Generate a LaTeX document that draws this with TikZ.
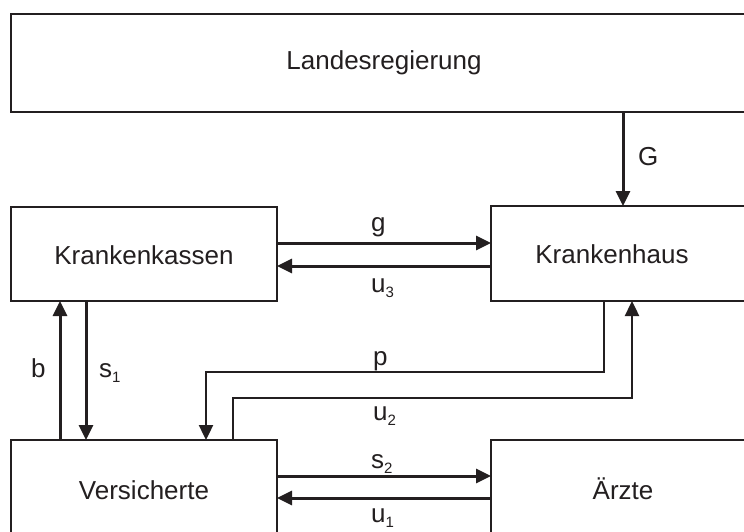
\documentclass[tikz,border=0pt]{standalone}
\usepackage{fontspec}
\setmainfont{Liberation Sans}
\usetikzlibrary{arrows.meta}
\definecolor{ink}{RGB}{35,31,32}
\newcommand{\subtxt}[1]{\raisebox{-5pt}{\fontsize{15}{15}\selectfont #1}}
\begin{document}
\begin{tikzpicture}[x=1pt,y=-1pt,
  box/.style={draw=ink,line width=2.6pt,rectangle,inner sep=0pt,outer sep=0pt},
  txt/.style={text=ink,font=\fontsize{26}{30}\selectfont,inner sep=0pt,anchor=base},
  lbl/.style={text=ink,font=\fontsize{26}{30}\selectfont,inner sep=0pt,anchor=base west},
  arr/.style={draw=ink,line width=3pt,-{Triangle[length=15pt 0 0,width=14pt 0 0]}},
  arrthin/.style={draw=ink,line width=2.4pt,-{Triangle[length=15pt 0 0,width=14pt 0 0]}}]
\clip (0,0) rectangle (744,532);
\fill[white] (0,0) rectangle (744,532);
% boxes
\node[box,minimum width=749pt,minimum height=98pt] (land) at (385.5,63) {};
\node[box,minimum width=266pt,minimum height=94pt] (kasse) at (144,254) {};
\node[box,minimum width=269pt,minimum height=95pt] (haus) at (625.5,253.5) {};
\node[box,minimum width=266pt,minimum height=120pt] (vers) at (144,500) {};
\node[box,minimum width=269pt,minimum height=120pt] (aerzte) at (625.5,500) {};
% texts
\node[txt] (tland) at (384,70) {Landesregierung};
\node[txt] (tkasse) at (144,264) {Krankenkassen};
\node[txt] (thaus) at (612,263) {Krankenhaus};
\node[txt] (tvers) at (144,499) {Versicherte};
\node[txt] (taerzte) at (623,499) {Ärzte};
% helper coordinates
\coordinate (xG) at (623,0);
\coordinate (yg) at (0,243);
\coordinate (yu3) at (0,266);
\coordinate (ys2) at (0,476);
\coordinate (yu1) at (0,498);
\coordinate (xb) at (60,0);
\coordinate (xs1) at (86,0);
\coordinate (pstart) at (604,0);
\coordinate (pend) at (206,0);
\coordinate (ypline) at (0,372);
\coordinate (ustart) at (233,0);
\coordinate (uend) at (632,0);
\coordinate (yuline) at (0,398);
% connectors
\draw[arr] (land.south -| xG) -- (haus.north -| xG);
\draw[arr] (kasse.east |- yg) -- (haus.west |- yg);
\draw[arr] (haus.west |- yu3) -- (kasse.east |- yu3);
\draw[arr] (vers.east |- ys2) -- (aerzte.west |- ys2);
\draw[arr] (aerzte.west |- yu1) -- (vers.east |- yu1);
\draw[arr] (vers.north -| xb) -- (kasse.south -| xb);
\draw[arr] (kasse.south -| xs1) -- (vers.north -| xs1);
\draw[arrthin] (haus.south -| pstart) -- (pstart |- ypline) -- (pend |- ypline) -- (vers.north -| pend);
\draw[arrthin] (vers.north -| ustart) -- (ustart |- yuline) -- (uend |- yuline) -- (haus.south -| uend);
% labels
\node[lbl] (lG) at (638,165) {G};
\node[lbl] (lg) at (371,231) {g};
\node[lbl] (lu3) at (371,292) {u\subtxt{3}};
\node[lbl] (lp) at (373,365) {p};
\node[lbl] (lu2) at (373,420) {u\subtxt{2}};
\node[lbl] (lb) at (31,377) {b};
\node[lbl] (ls1) at (99,377) {s\subtxt{1}};
\node[lbl] (ls2) at (371,468) {s\subtxt{2}};
\node[lbl] (lu1) at (371,522) {u\subtxt{1}};
\end{tikzpicture}
\end{document}
